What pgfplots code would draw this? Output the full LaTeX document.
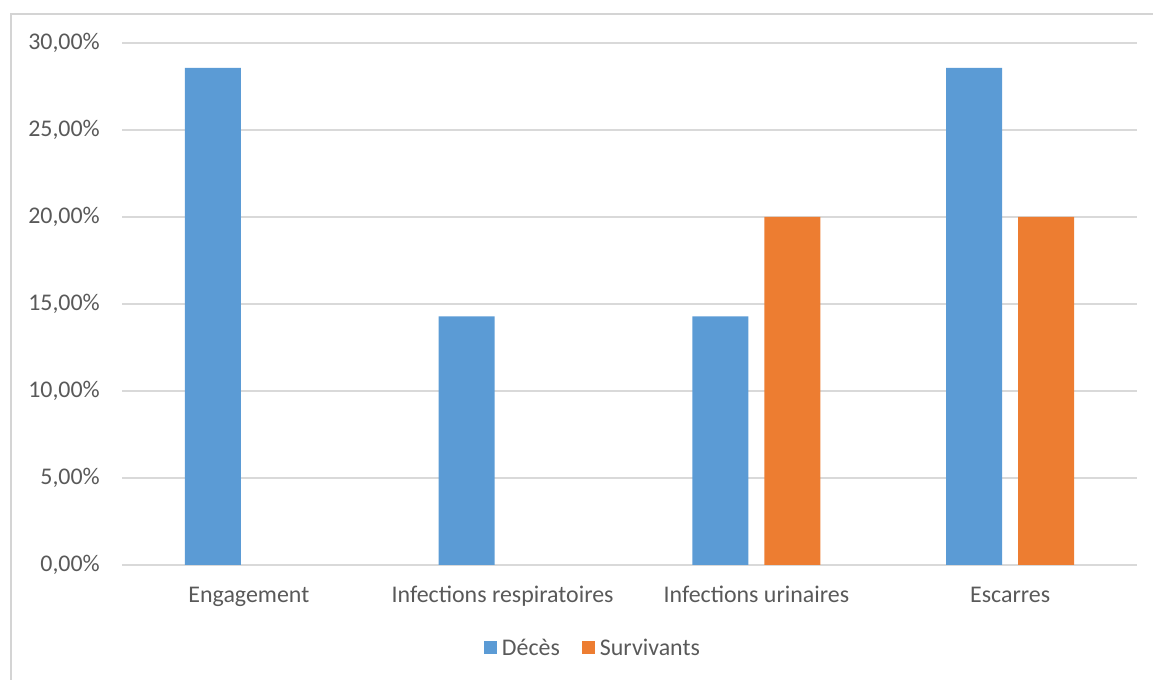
\documentclass[border=0pt]{standalone}
\usepackage{fontspec}
\setmainfont{Carlito}
\usepackage{pgfplots}
\pgfplotsset{compat=1.18}
\definecolor{deces}{HTML}{5B9BD5}
\definecolor{surv}{HTML}{ED7D31}
\definecolor{gridgray}{HTML}{D9D9D9}
\definecolor{framegray}{HTML}{D4D4D4}
\definecolor{txt}{HTML}{595959}
\begin{document}
\begin{tikzpicture}
\useasboundingbox (0,0) rectangle (1153bp,680bp);
% chart frame (left and top edges)
\draw[line width=2bp, framegray] (11bp,0) -- (11bp,666bp) -- (1153bp,666bp);
\begin{axis}[
  at={(122bp,115bp)}, anchor=south west,
  scale only axis, width=1015bp, height=522bp,
  xmin=-0.5, xmax=3.5, ymin=0, ymax=30,
  ybar, bar width=56bp,
  axis line style={draw=none},
  major tick length=0pt,
  xtick={0,1,2,3},
  xticklabels={Engagement, Infections respiratoires, Infections urinaires, Escarres},
  ytick={0,5,10,15,20,25,30},
  yticklabels={{0,00\%}, {5,00\%}, {10,00\%}, {15,00\%}, {20,00\%}, {25,00\%}, {30,00\%}},
  ymajorgrids, grid style={gridgray, line width=1.2bp},
  tick label style={font=\fontsize{24}{29}\selectfont, text=txt},
  yticklabel style={anchor=east, inner sep=0pt, xshift=-22bp},
  xticklabel style={anchor=base, inner sep=0pt, yshift=-38bp},
  legend style={at={(0.464,-0.159)}, anchor=center, draw=none, fill=none,
    legend columns=2, font=\fontsize{24}{29}\selectfont, text=txt,
    /tikz/every odd column/.append style={column sep=3bp},
    /tikz/every even column/.append style={column sep=20bp}},
  legend image code/.code={\fill[#1] (0bp,-6.5bp) rectangle (13bp,6.5bp);},
]
\addplot[fill=deces, draw=none, bar shift=-36bp] coordinates {(0,28.57) (1,14.29) (2,14.29) (3,28.57)};
\addplot[fill=surv, draw=none, bar shift=36bp] coordinates {(2,20) (3,20)};
\legend{Décès, Survivants}
\end{axis}
\end{tikzpicture}
\end{document}
